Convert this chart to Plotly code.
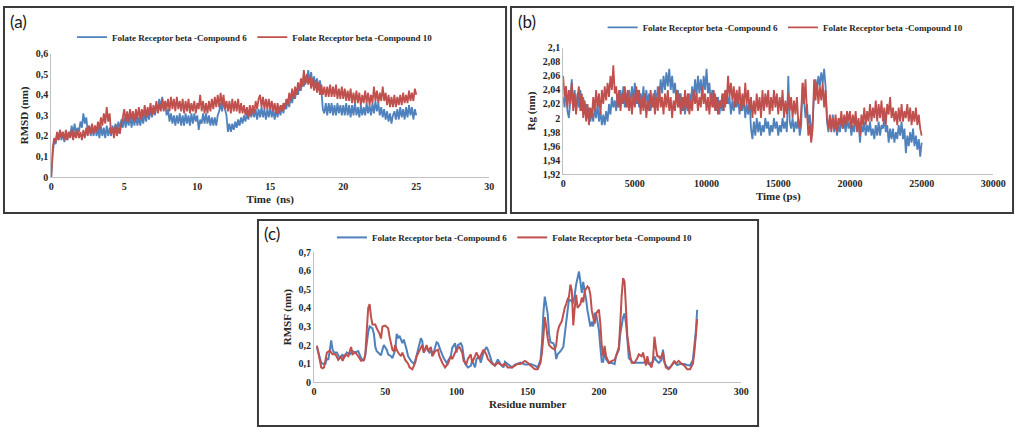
import plotly.graph_objects as go

BLUE = "#4F81BD"
RED = "#C0504D"
NAME6 = "Folate Receptor beta -Compound 6"
NAME10 = "Folate Receptor beta -Compound 10"

# ---------------- (a) RMSD vs time (ns), sampled every 0.1 ns ----------------
time_ns = [round(i * 0.1, 1) for i in range(251)]
rmsd_c6 = [
    0.00, 0.11, 0.18, 0.16, 0.21, 0.18, 0.23, 0.18, 0.22, 0.17,
    0.21, 0.18, 0.22, 0.20, 0.25, 0.21, 0.26, 0.21, 0.24, 0.22,
    0.27, 0.24, 0.31, 0.26, 0.29, 0.22, 0.25, 0.20, 0.24, 0.20,
    0.25, 0.20, 0.24, 0.19, 0.25, 0.20, 0.24, 0.19, 0.25, 0.20,
    0.24, 0.20, 0.25, 0.21, 0.26, 0.23, 0.27, 0.23, 0.28, 0.24,
    0.29, 0.24, 0.29, 0.25, 0.30, 0.24, 0.29, 0.25, 0.30, 0.25,
    0.29, 0.25, 0.30, 0.26, 0.31, 0.27, 0.32, 0.28, 0.33, 0.29,
    0.33, 0.30, 0.35, 0.33, 0.38, 0.33, 0.39, 0.33, 0.36, 0.30,
    0.33, 0.27, 0.31, 0.26, 0.30, 0.25, 0.30, 0.26, 0.31, 0.25,
    0.30, 0.25, 0.31, 0.26, 0.30, 0.25, 0.31, 0.26, 0.31, 0.27,
    0.30, 0.23, 0.28, 0.26, 0.31, 0.26, 0.31, 0.26, 0.30, 0.25,
    0.29, 0.25, 0.29, 0.25, 0.30, 0.32, 0.36, 0.32, 0.37, 0.33,
    0.30, 0.22, 0.26, 0.22, 0.26, 0.23, 0.27, 0.24, 0.28, 0.25,
    0.29, 0.26, 0.30, 0.27, 0.31, 0.28, 0.33, 0.29, 0.33, 0.29,
    0.33, 0.28, 0.33, 0.29, 0.34, 0.29, 0.33, 0.28, 0.33, 0.29,
    0.34, 0.29, 0.33, 0.28, 0.33, 0.29, 0.34, 0.30, 0.35, 0.31,
    0.36, 0.33, 0.38, 0.34, 0.39, 0.36, 0.41, 0.38, 0.43, 0.40,
    0.45, 0.42, 0.47, 0.44, 0.49, 0.46, 0.52, 0.46, 0.51, 0.45,
    0.49, 0.44, 0.48, 0.43, 0.47, 0.42, 0.33, 0.31, 0.36, 0.30,
    0.36, 0.31, 0.36, 0.30, 0.35, 0.30, 0.36, 0.31, 0.35, 0.30,
    0.35, 0.30, 0.36, 0.30, 0.35, 0.29, 0.35, 0.30, 0.36, 0.30,
    0.34, 0.29, 0.35, 0.30, 0.34, 0.30, 0.36, 0.31, 0.35, 0.30,
    0.36, 0.31, 0.37, 0.32, 0.36, 0.30, 0.34, 0.29, 0.33, 0.28,
    0.32, 0.27, 0.31, 0.26, 0.30, 0.32, 0.28, 0.33, 0.28, 0.34,
    0.29, 0.33, 0.28, 0.34, 0.29, 0.35, 0.30, 0.34, 0.28, 0.33,
    0.30,
]
rmsd_c10 = [
    0.00, 0.14, 0.19, 0.17, 0.22, 0.18, 0.23, 0.19, 0.22, 0.18,
    0.23, 0.18, 0.22, 0.19, 0.23, 0.18, 0.22, 0.19, 0.23, 0.19,
    0.22, 0.18, 0.23, 0.19, 0.24, 0.20, 0.25, 0.21, 0.26, 0.21,
    0.25, 0.22, 0.27, 0.23, 0.29, 0.25, 0.31, 0.26, 0.34, 0.27,
    0.31, 0.21, 0.24, 0.19, 0.25, 0.20, 0.24, 0.21, 0.26, 0.29,
    0.33, 0.27, 0.32, 0.27, 0.33, 0.28, 0.32, 0.27, 0.33, 0.28,
    0.34, 0.28, 0.33, 0.29, 0.35, 0.29, 0.34, 0.30, 0.36, 0.30,
    0.35, 0.31, 0.37, 0.31, 0.36, 0.32, 0.38, 0.32, 0.37, 0.33,
    0.38, 0.32, 0.39, 0.33, 0.38, 0.32, 0.39, 0.33, 0.37, 0.32,
    0.38, 0.31, 0.37, 0.32, 0.38, 0.31, 0.36, 0.32, 0.37, 0.31,
    0.36, 0.33, 0.40, 0.32, 0.37, 0.31, 0.36, 0.31, 0.37, 0.32,
    0.38, 0.33, 0.39, 0.34, 0.40, 0.34, 0.41, 0.35, 0.40, 0.33,
    0.37, 0.32, 0.37, 0.31, 0.38, 0.32, 0.37, 0.32, 0.38, 0.31,
    0.36, 0.31, 0.35, 0.30, 0.34, 0.29, 0.35, 0.30, 0.35, 0.31,
    0.37, 0.33, 0.38, 0.40, 0.34, 0.39, 0.33, 0.38, 0.33, 0.38,
    0.33, 0.37, 0.32, 0.36, 0.31, 0.36, 0.31, 0.35, 0.32, 0.36,
    0.33, 0.38, 0.35, 0.41, 0.37, 0.43, 0.38, 0.44, 0.40, 0.46,
    0.42, 0.48, 0.44, 0.52, 0.45, 0.50, 0.45, 0.49, 0.43, 0.48,
    0.42, 0.47, 0.41, 0.46, 0.40, 0.45, 0.40, 0.44, 0.39, 0.44,
    0.39, 0.45, 0.39, 0.44, 0.39, 0.45, 0.38, 0.43, 0.38, 0.44,
    0.38, 0.43, 0.37, 0.42, 0.37, 0.43, 0.36, 0.41, 0.36, 0.42,
    0.36, 0.41, 0.35, 0.40, 0.36, 0.42, 0.36, 0.41, 0.35, 0.40,
    0.36, 0.44, 0.37, 0.42, 0.36, 0.41, 0.37, 0.44, 0.37, 0.41,
    0.35, 0.40, 0.34, 0.39, 0.34, 0.40, 0.34, 0.39, 0.35, 0.40,
    0.35, 0.41, 0.36, 0.40, 0.36, 0.42, 0.37, 0.41, 0.37, 0.43,
    0.40,
]

# ---------------- (b) Rg vs time (ps), sampled every 100 ps ----------------
time_ps = [i * 100 for i in range(251)]
rg_c6 = [
    2.030, 2.015, 2.045, 2.010, 2.000, 2.025, 2.055, 2.015, 2.040, 2.010,
    2.035, 2.015, 2.040, 2.010, 2.030, 2.005, 2.020, 2.000, 2.015, 1.995,
    2.010, 1.995, 2.015, 2.000, 2.020, 1.995, 2.010, 1.990, 2.005, 1.990,
    2.010, 1.995, 2.020, 2.005, 2.030, 2.015, 2.025, 2.010, 2.035, 2.015,
    2.040, 2.020, 2.045, 2.015, 2.035, 2.015, 2.040, 2.020, 2.045, 2.025,
    2.050, 2.020, 2.040, 2.015, 2.035, 2.020, 2.045, 2.015, 2.040, 2.020,
    2.035, 2.010, 2.030, 2.015, 2.040, 2.020, 2.045, 2.030, 2.055, 2.035,
    2.060, 2.040, 2.065, 2.045, 2.070, 2.040, 2.060, 2.035, 2.050, 2.025,
    2.040, 2.015, 2.035, 2.010, 2.030, 2.005, 2.025, 2.010, 2.035, 2.020,
    2.045, 2.025, 2.055, 2.030, 2.060, 2.035, 2.055, 2.030, 2.060, 2.040,
    2.070, 2.035, 2.050, 2.020, 2.040, 2.015, 2.035, 2.010, 2.030, 2.005,
    2.025, 2.010, 2.035, 2.015, 2.040, 2.020, 2.030, 2.005, 2.025, 2.010,
    2.035, 2.015, 2.030, 2.005, 2.025, 2.010, 2.030, 2.000, 2.020, 2.005,
    2.025, 1.985, 1.970, 1.995, 1.975, 2.000, 1.980, 1.995, 1.975, 1.990,
    1.980, 2.000, 1.985, 1.995, 1.975, 1.990, 1.980, 2.000, 1.985, 1.995,
    1.975, 1.990, 1.980, 2.000, 1.985, 1.995, 1.980, 2.060, 1.995, 1.985,
    2.000, 1.980, 1.995, 1.985, 2.000, 1.975, 1.990, 2.050, 2.025, 2.000,
    2.020, 1.990, 2.005, 1.975, 1.995, 2.035, 2.055, 2.040, 2.060, 2.045,
    2.065, 2.050, 2.070, 2.045, 1.995, 1.980, 2.000, 1.985, 2.005, 1.980,
    1.995, 1.975, 1.990, 1.980, 2.000, 1.985, 1.995, 1.980, 2.000, 1.985,
    1.995, 1.975, 1.990, 1.980, 2.000, 1.985, 1.995, 1.965, 1.990, 1.980,
    1.995, 1.975, 1.990, 1.980, 1.995, 1.975, 1.985, 1.970, 1.990, 1.975,
    1.995, 1.975, 1.990, 1.985, 2.000, 1.980, 1.990, 1.965, 1.985, 1.970,
    1.985, 1.965, 1.980, 1.970, 1.990, 1.975, 1.995, 1.970, 1.985, 1.950,
    1.975, 1.960, 1.980, 1.965, 1.985, 1.960, 1.975, 1.955, 1.970, 1.945,
    1.965,
]
rg_c10 = [
    2.060, 2.030, 2.045, 2.015, 2.040, 2.020, 2.050, 2.010, 2.035, 2.005,
    2.030, 2.045, 2.010, 2.035, 2.000, 2.025, 1.995, 2.020, 1.990, 2.015,
    2.000, 2.030, 2.010, 2.040, 2.015, 2.035, 2.005, 2.040, 2.020, 2.045,
    2.025, 2.050, 2.030, 2.060, 2.040, 2.075, 2.035, 2.045, 2.015, 2.040,
    2.010, 2.035, 2.020, 2.045, 2.015, 2.040, 2.010, 2.030, 2.005, 2.035,
    2.015, 2.045, 2.020, 2.040, 2.005, 2.030, 2.010, 2.035, 2.000, 2.025,
    2.010, 2.040, 2.015, 2.035, 2.005, 2.030, 2.010, 2.045, 2.015, 2.030,
    2.005, 2.035, 2.015, 2.040, 2.010, 2.030, 2.000, 2.025, 2.010, 2.040,
    2.015, 2.035, 2.005, 2.030, 2.010, 2.040, 2.015, 2.035, 2.005, 2.025,
    2.010, 2.040, 2.020, 2.035, 2.010, 2.030, 2.015, 2.045, 2.020, 2.035,
    2.010, 2.030, 2.005, 2.035, 2.015, 2.040, 2.010, 2.030, 2.005, 2.025,
    2.015, 2.035, 2.010, 2.040, 2.020, 2.060, 2.030, 2.050, 2.025, 2.045,
    2.015, 2.040, 2.020, 2.045, 2.010, 2.035, 2.015, 2.050, 2.020, 2.040,
    2.010, 2.030, 2.000, 2.025, 2.005, 2.035, 2.010, 2.030, 2.000, 2.040,
    2.010, 2.035, 2.015, 2.040, 2.005, 2.030, 2.010, 2.040, 2.015, 2.035,
    2.005, 2.030, 2.010, 2.040, 2.000, 2.025, 2.005, 2.035, 2.010, 2.030,
    2.000, 2.025, 2.005, 2.030, 1.995, 1.985, 2.010, 2.050, 2.020, 2.055,
    2.010, 1.975, 1.990, 1.965, 1.985, 2.055, 2.025, 2.050, 2.020, 2.045,
    2.025, 2.050, 2.015, 2.040, 2.000, 1.985, 2.005, 1.980, 2.000, 1.985,
    2.005, 1.980, 2.000, 1.990, 2.010, 1.985, 2.005, 1.990, 2.010, 1.995,
    2.010, 1.985, 2.005, 1.990, 2.010, 1.980, 2.000, 1.975, 2.005, 1.990,
    2.015, 1.990, 2.010, 1.995, 2.020, 1.995, 2.015, 2.000, 2.025, 1.995,
    2.020, 2.000, 2.025, 1.995, 2.015, 1.990, 2.020, 2.005, 2.030, 2.000,
    2.015, 1.995, 2.010, 1.990, 2.015, 1.995, 2.020, 1.995, 2.010, 2.000,
    2.020, 1.995, 2.015, 1.990, 2.010, 1.995, 2.015, 1.990, 2.005, 1.985,
    1.975,
]

# ---------------- (c) RMSF per residue: (residue, value) readings ----------------
rmsf_c6_points = [
    (2, 0.19), (5, 0.105), (6, 0.10), (8, 0.10), (9, 0.13), (10, 0.12), (11, 0.17), (12, 0.225),
    (13, 0.175), (14, 0.16), (16, 0.16), (18, 0.13), (20, 0.15), (21, 0.13), (23, 0.16), (25, 0.15),
    (27, 0.167), (29, 0.16), (31, 0.167), (33, 0.13), (35, 0.115), (36, 0.15), (38, 0.27), (39, 0.30),
    (41, 0.29), (42, 0.26), (43, 0.19), (44, 0.167), (45, 0.16), (47, 0.145), (48, 0.175), (49, 0.20),
    (51, 0.175), (52, 0.15), (54, 0.14), (55, 0.13), (57, 0.175), (58, 0.26), (59, 0.237), (60, 0.25),
    (62, 0.21), (63, 0.23), (65, 0.175), (66, 0.14), (68, 0.115), (70, 0.10), (71, 0.115), (73, 0.175),
    (75, 0.237), (76, 0.22), (77, 0.16), (79, 0.19), (81, 0.16), (82, 0.167), (84, 0.16), (86, 0.215),
    (87, 0.21), (89, 0.167), (91, 0.13), (93, 0.105), (94, 0.115), (96, 0.14), (97, 0.185), (99, 0.21),
    (100, 0.16), (101, 0.20), (103, 0.21), (104, 0.195), (105, 0.14), (106, 0.10), (108, 0.08), (110, 0.088),
    (111, 0.115), (113, 0.08), (114, 0.125), (116, 0.14), (117, 0.105), (119, 0.16), (121, 0.19), (122, 0.175),
    (124, 0.13), (125, 0.105), (127, 0.09), (129, 0.123), (131, 0.098), (133, 0.08), (134, 0.11), (136, 0.098),
    (139, 0.08), (141, 0.095), (143, 0.10), (145, 0.106), (148, 0.095), (150, 0.095), (152, 0.098), (155, 0.09),
    (157, 0.08), (159, 0.12), (160, 0.21), (161, 0.37), (162, 0.46), (164, 0.37), (165, 0.26), (166, 0.215),
    (168, 0.21), (169, 0.19), (170, 0.125), (171, 0.15), (173, 0.167), (175, 0.19), (176, 0.255), (178, 0.385),
    (179, 0.445), (180, 0.44), (182, 0.43), (183, 0.47), (184, 0.525), (186, 0.595), (187, 0.54), (188, 0.48),
    (189, 0.54), (190, 0.49), (191, 0.445), (192, 0.385), (194, 0.30), (195, 0.325), (196, 0.30), (197, 0.37),
    (198, 0.37), (199, 0.325), (200, 0.28), (201, 0.19), (202, 0.11), (203, 0.11), (204, 0.176), (205, 0.125),
    (207, 0.103), (209, 0.105), (211, 0.098), (212, 0.14), (214, 0.175), (215, 0.26), (217, 0.35), (218, 0.37),
    (219, 0.315), (220, 0.23), (221, 0.13), (224, 0.105), (227, 0.105), (231, 0.105), (233, 0.11), (235, 0.098),
    (238, 0.11), (239, 0.14), (240, 0.12), (242, 0.105), (244, 0.12), (245, 0.175), (246, 0.105), (248, 0.08),
    (250, 0.08), (253, 0.11), (255, 0.093), (257, 0.098), (260, 0.098), (262, 0.093), (264, 0.09), (266, 0.12),
    (268, 0.27), (269, 0.39),
]
rmsf_c10_points = [
    (2, 0.197), (5, 0.08), (6, 0.075), (7, 0.08), (9, 0.16), (11, 0.17), (13, 0.15), (15, 0.15),
    (17, 0.12), (19, 0.14), (20, 0.115), (22, 0.15), (24, 0.14), (26, 0.19), (27, 0.15), (29, 0.16),
    (31, 0.14), (33, 0.115), (35, 0.12), (36, 0.15), (37, 0.28), (38, 0.40), (39, 0.42), (40, 0.35),
    (41, 0.31), (43, 0.31), (44, 0.29), (46, 0.26), (47, 0.235), (48, 0.30), (50, 0.305), (52, 0.29),
    (53, 0.245), (55, 0.175), (56, 0.167), (57, 0.20), (58, 0.175), (59, 0.16), (61, 0.14), (62, 0.16),
    (64, 0.12), (66, 0.10), (67, 0.08), (69, 0.07), (71, 0.105), (72, 0.14), (74, 0.17), (76, 0.20),
    (77, 0.16), (79, 0.20), (80, 0.167), (82, 0.19), (83, 0.14), (85, 0.167), (87, 0.175), (88, 0.14),
    (90, 0.105), (92, 0.08), (94, 0.10), (96, 0.14), (97, 0.125), (99, 0.16), (101, 0.185), (102, 0.19),
    (104, 0.16), (105, 0.115), (107, 0.10), (108, 0.125), (110, 0.15), (111, 0.105), (113, 0.14), (114, 0.16),
    (116, 0.125), (118, 0.16), (119, 0.175), (121, 0.15), (122, 0.125), (125, 0.10), (127, 0.09), (129, 0.105),
    (132, 0.09), (134, 0.10), (136, 0.08), (139, 0.08), (141, 0.09), (143, 0.10), (145, 0.098), (148, 0.115),
    (150, 0.105), (152, 0.09), (155, 0.07), (157, 0.07), (159, 0.105), (160, 0.16), (161, 0.245), (162, 0.35),
    (163, 0.30), (164, 0.237), (165, 0.20), (167, 0.185), (169, 0.176), (170, 0.20), (171, 0.27), (172, 0.30),
    (174, 0.33), (176, 0.40), (177, 0.42), (178, 0.445), (179, 0.46), (180, 0.525), (181, 0.49), (182, 0.305),
    (183, 0.40), (184, 0.47), (185, 0.40), (187, 0.42), (188, 0.455), (189, 0.43), (190, 0.49), (192, 0.515),
    (193, 0.507), (194, 0.47), (195, 0.385), (197, 0.315), (198, 0.37), (200, 0.39), (201, 0.315), (202, 0.195),
    (203, 0.14), (204, 0.195), (205, 0.14), (207, 0.105), (209, 0.115), (211, 0.12), (212, 0.14), (214, 0.19),
    (215, 0.315), (216, 0.47), (217, 0.56), (218, 0.54), (219, 0.40), (220, 0.245), (222, 0.14), (223, 0.105),
    (225, 0.105), (227, 0.13), (228, 0.15), (230, 0.14), (231, 0.16), (232, 0.125), (233, 0.09), (234, 0.14),
    (235, 0.105), (237, 0.08), (238, 0.125), (239, 0.245), (240, 0.185), (241, 0.14), (242, 0.14), (243, 0.125),
    (245, 0.16), (246, 0.115), (247, 0.08), (249, 0.07), (251, 0.09), (253, 0.115), (254, 0.10), (256, 0.115),
    (258, 0.10), (260, 0.09), (262, 0.07), (264, 0.07), (266, 0.10), (267, 0.16), (268, 0.245), (269, 0.34),
]
res_c6 = [p[0] for p in rmsf_c6_points]
rmsf_c6 = [p[1] for p in rmsf_c6_points]
res_c10 = [p[0] for p in rmsf_c10_points]
rmsf_c10 = [p[1] for p in rmsf_c10_points]

# tick labels
a_xticks = [0, 5, 10, 15, 20, 25, 30]
a_yticks = [0, 0.1, 0.2, 0.3, 0.4, 0.5, 0.6]
a_ytext = ["0", "0,1", "0,2", "0,3", "0,4", "0,5", "0,6"]
b_xticks = [0, 5000, 10000, 15000, 20000, 25000, 30000]
b_yticks = [1.92, 1.94, 1.96, 1.98, 2.0, 2.02, 2.04, 2.06, 2.08, 2.1]
b_ytext = ["1,92", "1,94", "1,96", "1,98", "2", "2,02", "2,04", "2,06", "2,08", "2,1"]
c_xticks = [0, 50, 100, 150, 200, 250, 300]
c_yticks = [0, 0.1, 0.2, 0.3, 0.4, 0.5, 0.6, 0.7]
c_ytext = ["0", "0,1", "0,2", "0,3", "0,4", "0,5", "0,6", "0,7"]

W, H = 1028, 434
SERIF = "Liberation Serif"
TXT = "#262626"


def px_x(p):
    return p / W


def px_y(p):
    return 1 - p / H


fig = go.Figure()
panels = [
    ("x", "y", "legend", time_ns, rmsd_c6, time_ns, rmsd_c10, 1.8),
    ("x2", "y2", "legend2", time_ps, rg_c6, time_ps, rg_c10, 1.8),
    ("x3", "y3", "legend3", res_c6, rmsf_c6, res_c10, rmsf_c10, 2),
]
for xa, ya, lg, x6, y6, x10, y10, lw in panels:
    fig.add_trace(go.Scatter(x=x6, y=y6, mode="lines", name=NAME6, xaxis=xa, yaxis=ya,
                             legend=lg, line=dict(color=BLUE, width=lw, simplify=False)))
    fig.add_trace(go.Scatter(x=x10, y=y10, mode="lines", name=NAME10, xaxis=xa, yaxis=ya,
                             legend=lg, line=dict(color=RED, width=lw, simplify=False)))

tickfont = dict(family=SERIF, size=10, color=TXT, weight="bold")
titlefont = dict(family=SERIF, size=11, color=TXT, weight="bold")


def xax(dom, anchor, rng, ticks, title):
    return dict(domain=dom, anchor=anchor, range=rng, tickvals=ticks, ticktext=[str(t) for t in ticks],
                showgrid=False, zeroline=False, showline=True, linecolor="#c0c0c0", linewidth=1,
                ticks="", tickfont=tickfont, title=dict(text=title, font=titlefont, standoff=4),
                fixedrange=True)


def yax(dom, anchor, rng, ticks, text, title):
    return dict(domain=dom, anchor=anchor, range=rng, tickvals=ticks, ticktext=text,
                showgrid=False, zeroline=False, showline=True, linecolor="#c0c0c0", linewidth=1,
                ticks="", tickfont=tickfont, title=dict(text=title, font=titlefont, standoff=4),
                fixedrange=True)


legfont = dict(family=SERIF, size=9, color=TXT, weight="bold")


def leg(xc, yc):
    return dict(orientation="h", x=xc, xanchor="center", y=yc, yanchor="middle", font=legfont,
                bgcolor="rgba(0,0,0,0)", itemwidth=30, itemclick=False, itemdoubleclick=False)


fig.update_layout(
    width=W, height=H, margin=dict(l=0, r=0, t=0, b=0), autosize=False,
    paper_bgcolor="white", plot_bgcolor="white",
    xaxis=xax([px_x(49), px_x(494)], "y", [0, 30], a_xticks, "Time  (ns)"),
    yaxis=yax([px_y(176), px_y(49)], "x", [0, 0.6], a_yticks, a_ytext, "RMSD (nm)"),
    xaxis2=xax([px_x(569), px_x(1006)], "y2", [0, 30000], b_xticks, "Time (ps)"),
    yaxis2=yax([px_y(173), px_y(43)], "x2", [1.92, 2.1], b_yticks, b_ytext, "Rg (nm)"),
    xaxis3=xax([px_x(316), px_x(750)], "y3", [0, 300], c_xticks, "Residue number"),
    yaxis3=yax([px_y(387), px_y(253)], "x3", [0, 0.7], c_yticks, c_ytext, "RMSF (nm)"),
    legend=leg(px_x(256), px_y(32)),
    legend2=leg(px_x(795), px_y(22)),
    legend3=leg(px_x(520), px_y(238)),
    showlegend=True,
)

# panel frames
frames = [(1, 1, 511, 213), (516, 1, 1026, 213), (259, 220, 767, 432)]
for x0, y0, x1, y1 in frames:
    fig.add_shape(type="rect", xref="paper", yref="paper", x0=px_x(x0), x1=px_x(x1),
                  y0=px_y(y1), y1=px_y(y0), line=dict(color="#3a3a3a", width=2),
                  fillcolor="rgba(0,0,0,0)", layer="above")

# panel letters
for label, x, y in [("(a)", 5, 16), ("(b)", 521, 16), ("(c)", 263, 234)]:
    fig.add_annotation(text=label, xref="paper", yref="paper", x=px_x(x), y=px_y(y),
                       xanchor="left", yanchor="middle", showarrow=False,
                       font=dict(family="Lato", size=17, color="#1a1a1a"))

fig.write_html("out.html", config={"displayModeBar": False},
               post_script="document.body.style.margin='0';document.body.style.overflow='hidden';")
